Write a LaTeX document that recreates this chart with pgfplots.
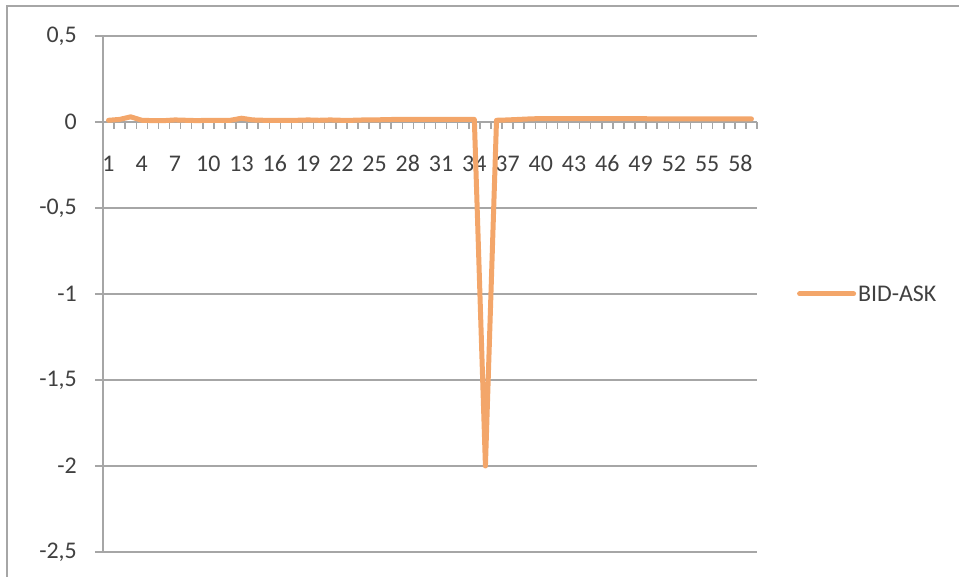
\documentclass[border=0pt]{standalone}
\usepackage{fontspec}
\setmainfont{Carlito}
\usepackage{pgfplots}
\pgfplotsset{compat=1.18}
\definecolor{lineor}{RGB}{243,166,106}
\definecolor{gridg}{RGB}{166,166,166}
\definecolor{txt}{RGB}{64,64,64}
\begin{document}
\begin{tikzpicture}
\path[use as bounding box] (0,0) rectangle (959bp,577bp);
% chart area border (only top and left are visible)
\draw[gridg, line width=2bp] (7bp,-5bp) -- (7bp,571bp) -- (965bp,571bp);
\begin{axis}[
  at={(103bp,25bp)}, anchor=south west,
  scale only axis, width=654bp, height=516bp,
  xmin=0.5, xmax=59.5, ymin=-2.5, ymax=0.5,
  axis x line*=middle, axis y line*=left,
  axis line style={gridg, line width=1.5bp},
  ytick={-2.5,-2,-1.5,-1,-0.5,0,0.5},
  ymajorgrids, grid style={gridg, line width=1.5bp},
  xtick={1,4,...,58},
  minor xtick={0.5,1.5,...,59.5},
  tick align=outside,
  major tick length=8bp, minor tick length=7bp,
  major x tick style={draw=none},
  major y tick style={gridg, line width=1.5bp},
  minor x tick style={gridg, line width=1.5bp},
  /pgf/number format/assume math mode=true,
  /pgf/number format/use comma,
  yticklabel style={font=\fontsize{24}{28}\selectfont, text=txt, anchor=east, inner sep=0pt, xshift=-18bp},
  xticklabel style={font=\fontsize{24}{28}\selectfont, text=txt, anchor=base, inner sep=0pt, yshift=-42bp},
  legend style={at={(1.061,0.5)}, anchor=west, draw=none, fill=none, inner sep=0pt,
    font=\fontsize{24}{28}\selectfont, text=txt},
  legend cell align=left,
  legend image code/.code={\draw[#1] (0bp,0bp) -- (54bp,0bp);},
]
\addplot[lineor, line width=5bp, line join=round, line cap=round] coordinates {
(1,0.010) (2,0.015) (3,0.030) (4,0.010) (5,0.008) (6,0.008) (7,0.012) (8,0.010)
(9,0.008) (10,0.010) (11,0.010) (12,0.010) (13,0.022) (14,0.012) (15,0.010) (16,0.010)
(17,0.010) (18,0.010) (19,0.012) (20,0.010) (21,0.012) (22,0.010) (23,0.010) (24,0.012)
(25,0.012) (26,0.014) (27,0.015) (28,0.015) (29,0.015) (30,0.015) (31,0.015) (32,0.015)
(33,0.015) (34,0.015) (35,-2.000) (36,0.010) (37,0.012) (38,0.015) (39,0.018) (40,0.020)
(41,0.020) (42,0.020) (43,0.020) (44,0.020) (45,0.020) (46,0.020) (47,0.020) (48,0.020)
(49,0.020) (50,0.018) (51,0.018) (52,0.018) (53,0.018) (54,0.018) (55,0.018) (56,0.018)
(57,0.018) (58,0.018) (59,0.018)
};
\addlegendentry{BID-ASK}
\end{axis}
\end{tikzpicture}
\end{document}
